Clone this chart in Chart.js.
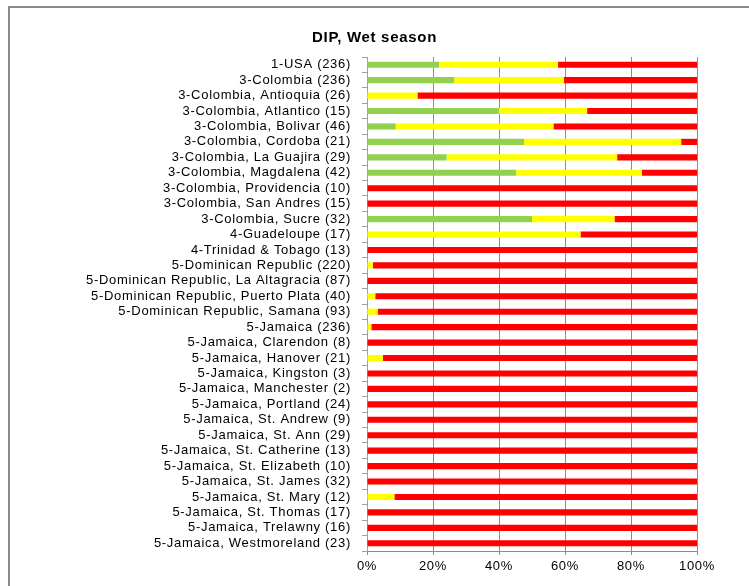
<!DOCTYPE html>
<html>
<head>
<meta charset="utf-8">
<script src="https://cdn.jsdelivr.net/npm/chart.js@4/dist/chart.umd.min.js"></script>
<style>
  body { margin: 0; background: #fff; }
</style>
</head>
<body>
<canvas id="myChart" width="749" height="586"></canvas>
<script>
// categories, top to bottom
const sites = [
  '1-USA (236)',
  '3-Colombia (236)',
  '3-Colombia, Antioquia (26)',
  '3-Colombia, Atlantico (15)',
  '3-Colombia, Bolivar (46)',
  '3-Colombia, Cordoba (21)',
  '3-Colombia, La Guajira (29)',
  '3-Colombia, Magdalena (42)',
  '3-Colombia, Providencia (10)',
  '3-Colombia, San Andres (15)',
  '3-Colombia, Sucre (32)',
  '4-Guadeloupe (17)',
  '4-Trinidad & Tobago (13)',
  '5-Dominican Republic (220)',
  '5-Dominican Republic, La Altagracia (87)',
  '5-Dominican Republic, Puerto Plata (40)',
  '5-Dominican Republic, Samana (93)',
  '5-Jamaica (236)',
  '5-Jamaica, Clarendon (8)',
  '5-Jamaica, Hanover (21)',
  '5-Jamaica, Kingston (3)',
  '5-Jamaica, Manchester (2)',
  '5-Jamaica, Portland (24)',
  '5-Jamaica, St. Andrew (9)',
  '5-Jamaica, St. Ann (29)',
  '5-Jamaica, St. Catherine (13)',
  '5-Jamaica, St. Elizabeth (10)',
  '5-Jamaica, St. James (32)',
  '5-Jamaica, St. Mary (12)',
  '5-Jamaica, St. Thomas (17)',
  '5-Jamaica, Trelawny (16)',
  '5-Jamaica, Westmoreland (23)'
]

// percent of samples in each band
const green = [21.8, 26.4, 0, 40.0, 8.7, 47.6, 24.1, 45.2, 0, 0, 50.0, 0, 0, 0, 0, 0,
               0, 0, 0, 0, 0, 0, 0, 0, 0, 0, 0, 0, 0, 0, 0, 0]
const yellow = [36.1, 33.3, 15.3, 26.7, 47.8, 47.6, 51.7, 38.1, 0, 0, 25.0, 64.7, 0, 1.8, 0, 2.5,
                3.2, 1.3, 0, 4.8, 0, 0, 0, 0, 0, 0, 0, 0, 8.3, 0, 0, 0]
const red = [42.1, 40.3, 84.7, 33.3, 43.5, 4.8, 24.2, 16.7, 100, 100, 25.0, 35.3, 100, 98.2, 100, 97.5,
             96.8, 98.7, 100, 95.2, 100, 100, 100, 100, 100, 100, 100, 100, 91.7, 100, 100, 100]

const xTicks = [0, 20, 40, 60, 80, 100]

const FONT = "'Liberation Sans', Arial, sans-serif"

// Excel text is drawn a bit wider, so spread the letters
const spacing = (chart) => { chart.ctx.letterSpacing = '0.7px' }

// gray frame around the whole chart, like the Excel chart border
const framePlugin = {
  id: 'frame',
  beforeUpdate: spacing,
  beforeLayout: spacing,
  beforeDraw(chart) {
    spacing(chart)
    const ctx = chart.ctx
    ctx.save()
    ctx.strokeStyle = '#8a8a8a'
    ctx.lineWidth = 2
    ctx.strokeRect(9, 7, chart.width + 20, chart.height + 20)
    ctx.restore()
  }
}

function chart() {
  const find = document.getElementById('myChart')
  const bar = (label, data, color) => ({
    label: label,
    data: data,
    backgroundColor: color,
    borderWidth: 0,
    barPercentage: 0.4,
    categoryPercentage: 1
  })
  new Chart(find, {
    type: 'bar',
    data: {
      labels: sites,
      datasets: [
        bar('green', green, '#92D050'),
        bar('yellow', yellow, '#FFFF00'),
        bar('red', red, '#FF0000')
      ]
    },
    plugins: [framePlugin],
    options: {
      indexAxis: 'y',
      responsive: false,
      animation: false,
      // equal side padding keeps the title centred on the frame
      layout: { padding: { left: 52, right: 52, top: 0, bottom: 0 } },
      plugins: {
        legend: { display: false },
        tooltip: { enabled: false },
        title: {
          display: true,
          text: 'DIP, Wet season',
          color: '#000',
          font: { family: FONT, size: 15, weight: 'bold' },
          padding: { top: 29, bottom: 10 }
        }
      },
      scales: {
        x: {
          stacked: true,
          min: 0,
          max: 100,
          afterBuildTicks: (axis) => { axis.ticks = xTicks.map(v => ({ value: v })) },
          afterFit: (axis) => { axis.height = 35 },
          ticks: {
            color: '#000',
            font: { family: FONT, size: 13 },
            padding: 4,
            maxRotation: 0,
            callback: (v) => v + '%'
          },
          grid: { color: '#8c8c8c', lineWidth: 1, tickLength: 4 },
          border: { color: '#8c8c8c' }
        },
        y: {
          stacked: true,
          afterFit: (axis) => { axis.width = 315 },
          ticks: {
            color: '#000',
            font: { family: FONT, size: 13 },
            padding: 11,
            autoSkip: false
          },
          grid: { drawOnChartArea: false, drawTicks: true, tickLength: 5, color: '#a0a0a0' },
          border: { color: '#a0a0a0' }
        }
      }
    }
  })
}

window.addEventListener('DOMContentLoaded', () => {
  chart()
})
</script>
</body>
</html>
